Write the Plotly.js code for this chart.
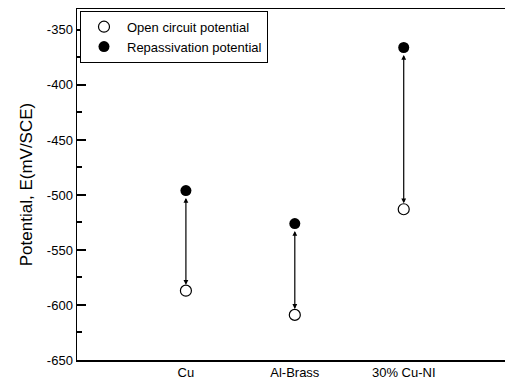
<!DOCTYPE html>
<html>
<head>
<meta charset="utf-8">
<script src="https://cdn.plot.ly/plotly-3.0.1.min.js"></script>
<style>html,body{margin:0;padding:0;background:#fff;}#chart{width:507px;height:385px;}</style>
</head>
<body>
<div id="chart"></div>
<script>
const categories = ["Cu", "Al-Brass", "30% Cu-NI"];
const categoryPos = [1, 2, 3];
const openCircuit = [-587, -609, -513];
const repassivation = [-496, -526, -366];
const yTickVals = [-650, -600, -550, -500, -450, -400, -350];

// show plain hyphen-minus on tick labels, as in the reference
const yLabelAlias = {};
yTickVals.forEach(v => { yLabelAlias["\u2212" + Math.abs(v)] = String(v); });

const traces = [
  {
    x: categoryPos, y: openCircuit, mode: "markers", type: "scatter",
    name: "Open circuit potential",
    marker: {symbol: "circle-open", size: 11, color: "#000", line: {width: 1.2, color: "#000"}}
  },
  {
    x: categoryPos, y: repassivation, mode: "markers", type: "scatter",
    name: "Repassivation potential",
    marker: {symbol: "circle", size: 11, color: "#000"}
  }
];

const annotations = categoryPos.map((x, i) => ({
  x: x, y: openCircuit[i], ax: x, ay: repassivation[i],
  xref: "x", yref: "y", axref: "x", ayref: "y",
  text: "", showarrow: true, arrowside: "end+start",
  arrowhead: 2, arrowsize: 0.8, arrowwidth: 1.2, arrowcolor: "#000",
  standoff: 6, startstandoff: 6
}));

const layout = {
  width: 507, height: 385,
  margin: {l: 77, r: 2, t: 9, b: 25},
  paper_bgcolor: "#fff", plot_bgcolor: "#fff",
  font: {family: "Liberation Sans, Arial, sans-serif", color: "#000", size: 13},
  showlegend: true,
  legend: {x: 0.007, y: 0.995, xanchor: "left", yanchor: "top",
    bordercolor: "#000", borderwidth: 1, bgcolor: "#fff",
    font: {size: 13}, tracegroupgap: 0, itemsizing: "trace", itemwidth: 36},
  xaxis: {
    range: [0, 3.93], tickmode: "array", tickvals: categoryPos, ticktext: categories,
    showline: true, linecolor: "#000", linewidth: 1.5, mirror: true,
    ticks: "", showgrid: false, zeroline: false, tickfont: {size: 13}
  },
  yaxis: {
    range: [-650, -331], tickmode: "linear", tick0: yTickVals[0], dtick: yTickVals[1] - yTickVals[0],
    labelalias: yLabelAlias,
    showline: true, linecolor: "#000", linewidth: 1.5,
    ticks: "inside", ticklen: 9, tickwidth: 2, tickcolor: "#000",
    minor: {dtick: 25, tick0: -650, ticks: "inside", ticklen: 5, tickwidth: 2, tickcolor: "#000"},
    showgrid: false, zeroline: false, tickfont: {size: 13},
    title: {text: "Potential, E(mV/SCE)", font: {size: 17}, standoff: 10}
  },
  annotations: annotations
};

Plotly.newPlot("chart", traces, layout, {displayModeBar: false, staticPlot: true});
</script>
</body>
</html>
